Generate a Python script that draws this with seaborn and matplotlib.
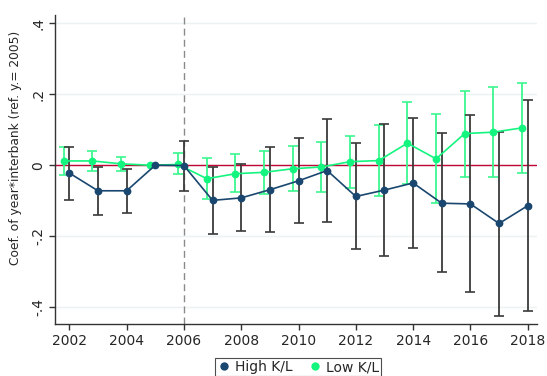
import numpy as np
import pandas as pd
import matplotlib
matplotlib.use("Agg")
import matplotlib.pyplot as plt
import seaborn as sns
from matplotlib.lines import Line2D

years = [2002, 2003, 2004, 2005, 2006, 2007, 2008, 2009, 2010,
         2011, 2012, 2013, 2014, 2015, 2016, 2017, 2018]

high_coef = [-0.022, -0.072, -0.072, 0.0, -0.001, -0.099, -0.092, -0.069, -0.044,
             -0.015, -0.088, -0.070, -0.050, -0.107, -0.109, -0.164, -0.114]
high_lo = [-0.097, -0.141, -0.135, 0.0, -0.073, -0.194, -0.184, -0.189, -0.164,
           -0.160, -0.236, -0.256, -0.234, -0.302, -0.358, -0.424, -0.410]
high_hi = [0.052, -0.004, -0.010, 0.0, 0.068, -0.005, 0.003, 0.050, 0.076,
           0.130, 0.063, 0.115, 0.134, 0.090, 0.141, 0.094, 0.184]

low_coef = [0.012, 0.012, 0.004, 0.0, 0.002, -0.038, -0.024, -0.020, -0.010,
            -0.005, 0.010, 0.013, 0.062, 0.018, 0.089, 0.093, 0.105]
low_lo = [-0.027, -0.016, -0.015, 0.0, -0.026, -0.094, -0.076, -0.081, -0.073,
          -0.075, -0.063, -0.088, -0.053, -0.105, -0.033, -0.032, -0.021]
low_hi = [0.052, 0.041, 0.023, 0.0, 0.033, 0.019, 0.032, 0.041, 0.055,
          0.064, 0.083, 0.112, 0.177, 0.143, 0.210, 0.219, 0.231]

groups = ["High K/L", "Low K/L"]
x_ticks = [2002, 2004, 2006, 2008, 2010, 2012, 2014, 2016, 2018]
y_ticks = [-0.4, -0.2, 0.0, 0.2, 0.4]
y_tick_labels = ["-.4", "-.2", "0", ".2", ".4"]

NAVY = "#1a476f"
GREEN = "#14f57f"
GREEN_CI = "#3cf78f"
CI_DARK = "#3a3a3a"
RED = "#c10534"

# Low K/L estimates are nudged left so the two series don't overlap
offset = {"High K/L": 0.0, "Low K/L": -0.2}

df = pd.concat([
    pd.DataFrame({"year": years, "coef": high_coef, "lo": high_lo, "hi": high_hi, "group": "High K/L"}),
    pd.DataFrame({"year": years, "coef": low_coef, "lo": low_lo, "hi": low_hi, "group": "Low K/L"}),
], ignore_index=True)
df["xpos"] = df["year"] + df["group"].map(offset)

sns.set_style("white")
plt.rcParams["font.family"] = ["DejaVu Sans"]

fig = plt.figure(figsize=(5.47, 3.76), dpi=100)
ax = fig.add_axes([0.1005, 0.1383, 0.8805, 0.822])

for yv in y_ticks:
    ax.axhline(yv, color="#eaf2f3", lw=1.0, zorder=0)

ax.axhline(0, color=RED, lw=1.0, zorder=1)
ax.axvline(2006, color="#8a8a8a", lw=1.0, ls=(0, (5, 3)), zorder=1)

palette = {"High K/L": NAVY, "Low K/L": GREEN}
ci_colors = {"High K/L": CI_DARK, "Low K/L": GREEN_CI}

for g in ["Low K/L", "High K/L"]:
    sub = df[(df["group"] == g) & (df["year"] != 2005)]
    ax.errorbar(sub["xpos"], sub["coef"],
                yerr=[sub["coef"] - sub["lo"], sub["hi"] - sub["coef"]],
                fmt="none", ecolor=ci_colors[g], elinewidth=1.3,
                capsize=3.5, capthick=1.2, zorder=2)
    sns.lineplot(data=df[df["group"] == g], x="xpos", y="coef", color=palette[g],
                 marker="o", markersize=5.6, markeredgewidth=0, lw=1.2,
                 ax=ax, zorder=3, legend=False)

ax.set_xlim(2001.5, 2018.31)
ax.set_ylim(-0.447, 0.423)
ax.set_xticks(x_ticks)
ax.set_xticklabels([str(t) for t in x_ticks], fontsize=10)
ax.set_yticks(y_ticks)
ax.set_yticklabels(y_tick_labels, fontsize=10, rotation=90, va="center")
ax.set_xlabel("")
ax.set_ylabel("Coef. of year*interbank (ref. y.= 2005)", fontsize=8.8)
ax.yaxis.set_label_coords(-0.068, 0.57)

for s in ["top", "right"]:
    ax.spines[s].set_visible(False)
for s in ["left", "bottom"]:
    ax.spines[s].set_color("#333333")
    ax.spines[s].set_linewidth(1.0)
ax.tick_params(axis="both", direction="out", length=4, width=1, color="#333333",
               left=True, bottom=True, pad=3)

handles = [Line2D([], [], ls="none", marker="o", color=palette[g], markersize=6,
                  markeredgewidth=0) for g in groups]
leg = fig.legend(handles, groups, loc="upper center", bbox_to_anchor=(0.5445, 0.0475),
                 ncol=2, frameon=True, fancybox=False, fontsize=10,
                 handletextpad=0.3, columnspacing=1.1, handlelength=1.0,
                 borderpad=0.15, borderaxespad=0.0, edgecolor="#222222")
leg.get_frame().set_linewidth(0.8)

fig.savefig("out.png", dpi=100)
